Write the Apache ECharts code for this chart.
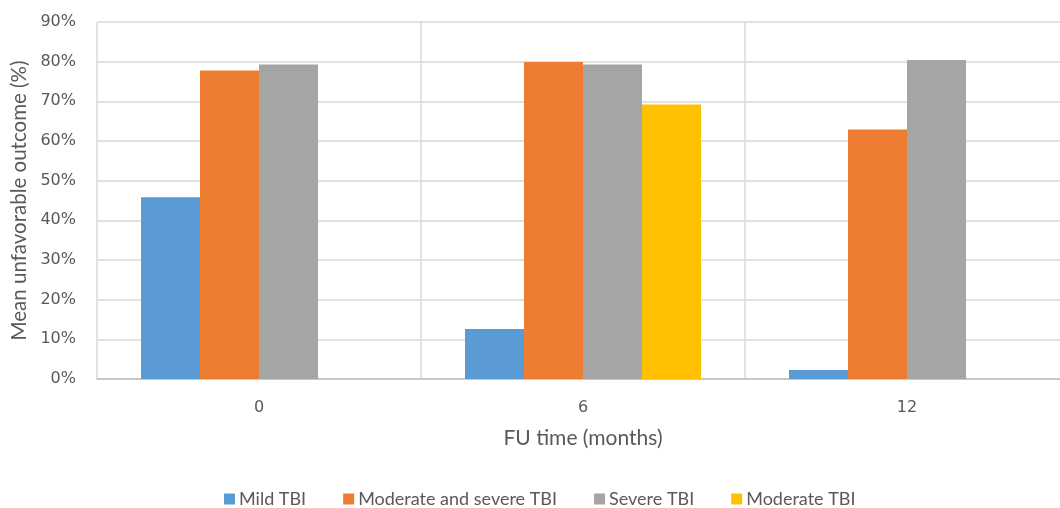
<!DOCTYPE html>
<html>
<head>
<meta charset="utf-8">
<script src="https://cdn.jsdelivr.net/npm/echarts@6/dist/echarts.min.js"></script>
<style>
  html, body { margin: 0; padding: 0; background: #ffffff; overflow: hidden; }
  #chart { width: 1060px; height: 508px; }
</style>
</head>
<body>
<div id="chart"></div>
<script>
// Follow-up time points (months)
const categories = ['0', '6', '12'];

// Mean unfavorable outcome (%) per group
const mildTBI = [45.8, 12.6, 2.3];
const moderateSevereTBI = [77.8, 79.9, 62.9];
const severeTBI = [79.3, 79.3, 80.4];
const moderateTBI = [null, 69.2, null];

const seriesNames = ['Mild TBI', 'Moderate and severe TBI', 'Severe TBI', 'Moderate TBI'];
const seriesColors = ['#5B9BD5', '#ED7D31', '#A5A5A5', '#FFC000'];
const seriesValues = [mildTBI, moderateSevereTBI, severeTBI, moderateTBI];

const FONT = 'Lato';
const TICK_FONT = 'DejaVu Sans';
const TEXT = '#595959';

const chart = echarts.init(document.getElementById('chart'), null, { renderer: 'canvas' });

chart.setOption({
  animation: false,
  backgroundColor: '#ffffff',
  textStyle: { fontFamily: FONT, color: TEXT },
  // the last category runs slightly past the right edge of the canvas
  grid: { left: 97, width: 972, top: 22, bottom: 129, containLabel: false, outerBoundsMode: 'none' },
  legend: {
    top: 490,
    left: 224,
    padding: 0,
    itemWidth: 11,
    itemHeight: 11,
    itemGap: 37,
    icon: 'rect',
    textStyle: { fontFamily: FONT, fontSize: 18, color: TEXT, padding: [0, 0, 0, -1] },
    data: seriesNames
  },
  xAxis: {
    type: 'category',
    data: categories,
    axisLine: { lineStyle: { color: '#BFBFBF', width: 1.5 } },
    axisTick: { show: false },
    axisLabel: { fontFamily: TICK_FONT, fontSize: 16, color: TEXT, margin: 21 },
    splitLine: { show: true, lineStyle: { color: '#D9D9D9', width: 1.5 } },
    name: 'FU time (months)',
    nameLocation: 'middle',
    nameGap: 49,
    nameTextStyle: { fontFamily: FONT, fontSize: 21, color: TEXT }
  },
  yAxis: {
    type: 'value',
    min: 0,
    max: 90,
    interval: 10,
    axisLine: { show: false },
    axisTick: { show: false },
    axisLabel: { fontFamily: TICK_FONT, fontSize: 16, color: TEXT, margin: 21, formatter: '{value}%' },
    splitLine: { lineStyle: { color: '#D9D9D9', width: 1.5 } },
    name: 'Mean unfavorable outcome (%)',
    nameLocation: 'middle',
    nameRotate: 90,
    nameGap: 66,
    nameTextStyle: { fontFamily: FONT, fontSize: 20.5, color: TEXT }
  },
  series: seriesNames.map((name, i) => ({
    name: name,
    type: 'bar',
    data: seriesValues[i],
    barWidth: 59,
    barGap: '0%',
    itemStyle: { color: seriesColors[i] }
  }))
});
</script>
</body>
</html>
